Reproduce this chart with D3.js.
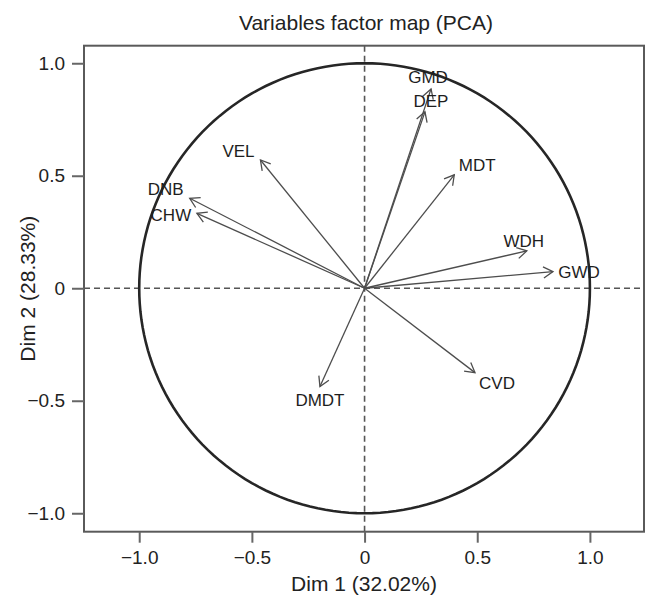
<!DOCTYPE html>
<html>
<head>
<meta charset="utf-8">
<script src="https://cdn.jsdelivr.net/npm/d3@7"></script>
<style>
  html, body { margin: 0; padding: 0; background: #fff; }
  svg { display: block; font-family: "Liberation Sans", Arial, Helvetica, sans-serif; }
</style>
</head>
<body>
<svg id="chart" width="648" height="601"></svg>
<script>
// ---- data ----
const variables = ["GMD", "DEP", "VEL", "DNB", "CHW", "MDT", "WDH", "GWD", "DMDT", "CVD"];
const dim1 = [0.295, 0.268, -0.462, -0.776, -0.744, 0.398, 0.720, 0.836, -0.198, 0.490];
const dim2 = [0.886, 0.784, 0.570, 0.400, 0.333, 0.504, 0.166, 0.074, -0.437, -0.375];
const tickValues = [-1, -0.5, 0, 0.5, 1];
const tickLabels = ["\u22121.0", "\u22120.5", "0", "0.5", "1.0"];
const titleText = "Variables factor map (PCA)";
const xTitle = "Dim 1 (32.02%)";
const yTitle = "Dim 2 (28.33%)";

// label nudges (pixels) relative to arrow tips
const labelNudgeX = [-3, 6, -22, -24, -26, 23, -3, 26, 0, 22];
const labelNudgeY = [-11, -10, -9, -9, 2, -9, -9, 1, 14, 11];

// ---- layout ----
const box = { left: 84, right: 644, top: 45.7, bottom: 531.7 };
const x = d3.scaleLinear().domain([-1.245, 1.24]).range([box.left, box.right]);
const y = d3.scaleLinear().domain([-1.082, 1.078]).range([box.bottom, box.top]);

const svg = d3.select("#chart");
const frameColor = "#5a5a5a";
const arrowColor = "#4d4d4d";

// title
svg.append("text")
  .attr("x", (box.left + box.right) / 2 + 2)
  .attr("y", 30)
  .attr("text-anchor", "middle")
  .attr("font-size", 21)
  .attr("fill", "#222")
  .text(titleText);

// dashed axes through origin
svg.append("line")
  .attr("x1", box.left).attr("x2", box.right)
  .attr("y1", y(0)).attr("y2", y(0))
  .attr("stroke", "#555").attr("stroke-width", 1.6)
  .attr("stroke-dasharray", "6,4");
svg.append("line")
  .attr("x1", x(0)).attr("x2", x(0))
  .attr("y1", box.top).attr("y2", box.bottom)
  .attr("stroke", "#555").attr("stroke-width", 1.6)
  .attr("stroke-dasharray", "6,4");

// correlation circle
const circlePts = d3.range(0, 361, 2).map(a => [Math.cos(a * Math.PI / 180), Math.sin(a * Math.PI / 180)]);
svg.append("path")
  .datum(circlePts)
  .attr("d", d3.line().x(d => x(d[0])).y(d => y(d[1])))
  .attr("fill", "none")
  .attr("stroke", "#262626")
  .attr("stroke-width", 2.6);

// arrows
const data = variables.map((v, i) => ({ name: v, d1: dim1[i], d2: dim2[i], nx: labelNudgeX[i], ny: labelNudgeY[i] }));
const headLen = 11, headAng = Math.PI / 6;
const g = svg.append("g");
data.forEach(d => {
  const x0 = x(0), y0 = y(0), x1 = x(d.d1), y1 = y(d.d2);
  const ang = Math.atan2(y1 - y0, x1 - x0);
  g.append("line")
    .attr("x1", x0).attr("y1", y0).attr("x2", x1).attr("y2", y1)
    .attr("stroke", arrowColor).attr("stroke-width", 1.3);
  const p1 = [x1 - headLen * Math.cos(ang - headAng), y1 - headLen * Math.sin(ang - headAng)];
  const p2 = [x1 - headLen * Math.cos(ang + headAng), y1 - headLen * Math.sin(ang + headAng)];
  g.append("path")
    .attr("d", `M${p1[0]},${p1[1]}L${x1},${y1}L${p2[0]},${p2[1]}`)
    .attr("fill", "none").attr("stroke", arrowColor).attr("stroke-width", 1.3);
});
// labels
svg.append("g").selectAll("text").data(data).join("text")
  .attr("x", d => x(d.d1) + d.nx)
  .attr("y", d => y(d.d2) + d.ny)
  .attr("text-anchor", "middle")
  .attr("dominant-baseline", "central")
  .attr("font-size", 17)
  .attr("fill", "#1e1e1e")
  .text(d => d.name);

// frame
svg.append("rect")
  .attr("x", box.left).attr("y", box.top)
  .attr("width", box.right - box.left).attr("height", box.bottom - box.top)
  .attr("fill", "none").attr("stroke", frameColor).attr("stroke-width", 2);

// axes
const fmt = v => tickLabels[tickValues.indexOf(v)];
const xAxis = svg.append("g")
  .attr("transform", `translate(0,${box.bottom})`)
  .call(d3.axisBottom(x).tickValues(tickValues).tickFormat(fmt).tickSize(11).tickPadding(8));
const yAxis = svg.append("g")
  .attr("transform", `translate(${box.left},0)`)
  .call(d3.axisLeft(y).tickValues(tickValues).tickFormat(fmt).tickSize(12).tickPadding(7));
[xAxis, yAxis].forEach(a => {
  a.select(".domain").remove();
  a.selectAll(".tick line").attr("stroke", "#666").attr("stroke-width", 2);
  a.selectAll(".tick text").attr("font-size", 19).attr("fill", "#222")
    .attr("font-family", "'Liberation Sans', Arial, sans-serif");
});

// axis titles
svg.append("text")
  .attr("x", (box.left + box.right) / 2)
  .attr("y", 591)
  .attr("text-anchor", "middle")
  .attr("font-size", 21)
  .attr("fill", "#222")
  .text(xTitle);
svg.append("text")
  .attr("transform", `translate(35,${(box.top + box.bottom) / 2}) rotate(-90)`)
  .attr("text-anchor", "middle")
  .attr("font-size", 21)
  .attr("fill", "#222")
  .text(yTitle);
</script>
</body>
</html>
